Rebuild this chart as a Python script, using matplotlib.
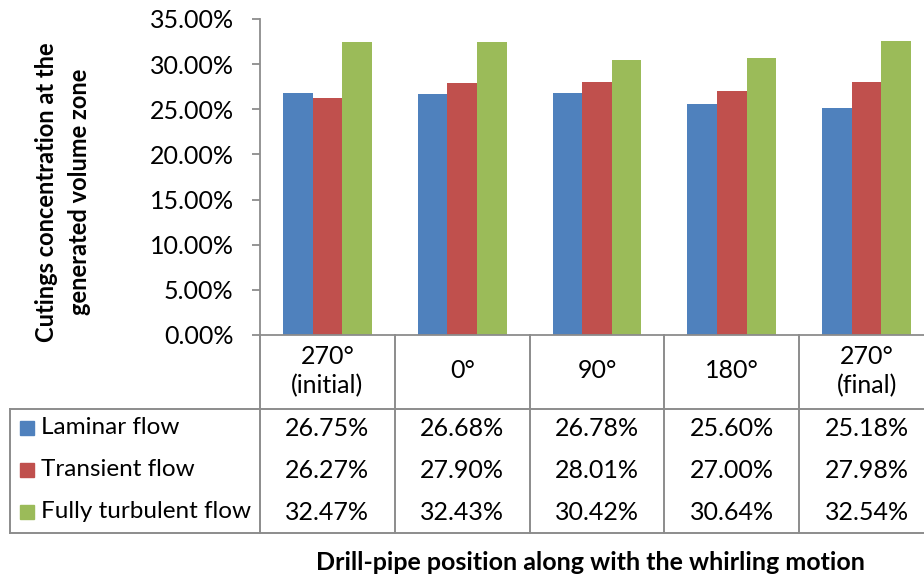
import matplotlib.pyplot as plt
from matplotlib.ticker import FuncFormatter

categories = ["270°\n(initial)", "0°", "90°", "180°", "270°\n(final)"]
series_names = ["Laminar flow", "Transient flow", "Fully turbulent flow"]
laminar = [26.75, 26.68, 26.78, 25.60, 25.18]
transient = [26.27, 27.90, 28.01, 27.00, 27.98]
turbulent = [32.47, 32.43, 30.42, 30.64, 32.54]
colors = ["#4F81BD", "#C0504D", "#9BBB59"]

plt.rcParams['font.family'] = ['Lato', 'DejaVu Sans']
W, H = 924, 579
grid_col = "#8C8C8C"
fs = 18

fig = plt.figure(figsize=(W / 100, H / 100), dpi=100)

# pixel layout of the plot area
left_px, right_px, top_px, zero_px = 260, 934, 19, 335
ax = fig.add_axes([left_px / W, 1 - zero_px / H,
                   (right_px - left_px) / W, (zero_px - top_px) / H])

n = len(categories)
x = list(range(n))
width = 0.22
for k, vals in enumerate([laminar, transient, turbulent]):
    ax.bar([i + (k - 1) * width for i in x], vals, width, color=colors[k],
           label=series_names[k])

ax.set_xlim(-0.5, n - 0.5)
ax.set_ylim(0, 35)
ax.set_yticks([0, 5, 10, 15, 20, 25, 30, 35])
ax.yaxis.set_major_formatter(FuncFormatter(lambda v, p: f"{v:.2f}%"))
ax.set_xticks([])
ax.tick_params(axis='y', labelsize=fs, length=6, width=1.3, color=grid_col, pad=13)
for s in ['top', 'right']:
    ax.spines[s].set_visible(False)
for s in ['left', 'bottom']:
    ax.spines[s].set_color(grid_col)
    ax.spines[s].set_linewidth(1.3)

# data table underneath, drawn in pixel coordinates
tab = fig.add_axes([0, 0, 1, 1])
tab.set_xlim(0, W)
tab.set_ylim(H, 0)
tab.axis('off')

col_w = (right_px - left_px) / n
edges = [left_px + i * col_w for i in range(n + 1)]
row_top, row_bot, tab_left = 409, 533, 10
lw = 1.4
for e in edges:
    tab.plot([e, e], [zero_px, row_bot], color=grid_col, lw=lw)
tab.plot([tab_left, W], [row_top, row_top], color=grid_col, lw=lw)
tab.plot([tab_left, W], [row_bot, row_bot], color=grid_col, lw=lw)
tab.plot([tab_left, tab_left], [row_top, row_bot], color=grid_col, lw=lw)

for i, c in enumerate(categories):
    tab.text((edges[i] + edges[i + 1]) / 2, 371, c, ha='center', va='center',
             fontsize=fs, linespacing=1.3)

row_y = [428, 470, 512]
for k, vals in enumerate([laminar, transient, turbulent]):
    y = row_y[k]
    tab.add_patch(plt.Rectangle((20, y - 7), 14, 14, color=colors[k]))
    tab.text(41, y, series_names[k], ha='left', va='center', fontsize=fs - 0.5)
    for i, v in enumerate(vals):
        tab.text((edges[i] + edges[i + 1]) / 2, y, f"{v:.2f}%", ha='center',
                 va='center', fontsize=fs)

fig.text(63 / W, 1 - 192 / H, "Cutings concentration at the\ngenerated volume zone",
         rotation=90, ha='center', va='center', fontsize=fs - 1, fontweight='bold',
         linespacing=1.5)
fig.text(590 / W, 1 - 562 / H, "Drill-pipe position along with the whirling motion",
         ha='center', va='center', fontsize=fs, fontweight='bold')

fig.savefig("out.png", dpi=100)
